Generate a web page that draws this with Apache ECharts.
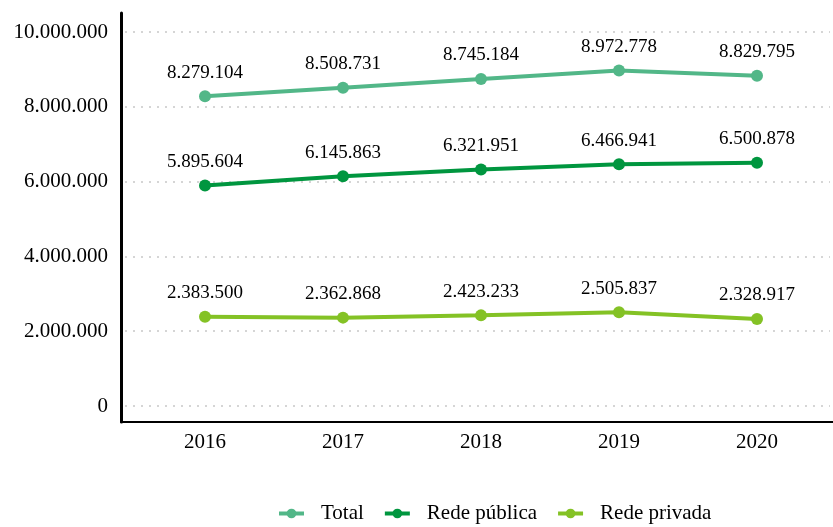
<!DOCTYPE html>
<html>
<head>
<meta charset="utf-8">
<script src="https://cdn.jsdelivr.net/npm/echarts@6/dist/echarts.min.js"></script>
<style>
  html, body { margin: 0; padding: 0; background: #fff; }
  #chart { width: 833px; height: 527px; }
</style>
</head>
<body>
<div id="chart"></div>
<script>
const years = ['2016', '2017', '2018', '2019', '2020']
const total = [8279104, 8508731, 8745184, 8972778, 8829795]
const publica = [5895604, 6145863, 6321951, 6466941, 6500878]
const privada = [2383500, 2362868, 2423233, 2505837, 2328917]

const font = '"Liberation Serif", "Times New Roman", serif'

function fmt (v) {
  return String(v).replace(/\B(?=(\d{3})+(?!\d))/g, '.')
}

function line (name, data, color) {
  return {
    name: name,
    type: 'line',
    data: data,
    xAxisIndex: 0,
    yAxisIndex: 0,
    symbol: 'circle',
    symbolSize: 12,
    lineStyle: { color: color, width: 4 },
    itemStyle: { color: color },
    label: {
      show: true,
      position: 'top',
      distance: 8,
      formatter: p => fmt(p.value),
      fontFamily: font,
      fontSize: 19,
      color: '#000'
    }
  }
}

const chart = echarts.init(document.getElementById('chart'))
chart.setOption({
  animation: false,
  textStyle: { fontFamily: font },
  grid: [
    { left: 136, right: 7, top: 32, bottom: 121 },
    { left: 125, right: 3, top: 32, bottom: 121 },
    { left: 121, right: 0, top: 13, bottom: 105 }
  ],
  legend: {
    top: 503,
    left: 277,
    padding: 0,
    itemWidth: 25,
    itemHeight: 12,
    itemGap: 19,
    lineStyle: { width: 4 },
    data: ['Total', 'Rede pública', 'Rede privada'],
    textStyle: { fontFamily: font, fontSize: 21, color: '#000', padding: [0, 0, 0, 12] }
  },
  xAxis: [
    {
      gridIndex: 0,
      type: 'category',
      data: years,
      boundaryGap: true,
      axisLine: { show: false },
      axisTick: { show: false },
      axisLabel: { fontFamily: font, fontSize: 21, color: '#000', margin: 26 }
    },
    { gridIndex: 1, type: 'value', show: false },
    {
      gridIndex: 2,
      type: 'value',
      axisLine: { show: true, onZero: false, lineStyle: { color: '#000', width: 2 } },
      axisTick: { show: false },
      axisLabel: { show: false },
      splitLine: { show: false }
    }
  ],
  yAxis: [
    {
      gridIndex: 0,
      type: 'value',
      min: 0,
      max: 10000000,
      interval: 2000000,
      axisLine: { show: false },
      axisTick: { show: false },
      splitLine: { show: false },
      axisLabel: {
        fontFamily: font,
        fontSize: 21,
        color: '#000',
        margin: 28,
        formatter: v => fmt(v)
      }
    },
    {
      gridIndex: 1,
      type: 'value',
      min: 0,
      max: 10000000,
      interval: 2000000,
      axisLine: { show: false },
      axisTick: { show: false },
      axisLabel: { show: false },
      splitLine: { show: true, lineStyle: { color: '#c8c8c8', type: [2, 6], width: 1.5 } }
    },
    {
      gridIndex: 2,
      type: 'value',
      axisLine: { show: true, onZero: false, lineStyle: { color: '#000', width: 3 } },
      axisTick: { show: false },
      axisLabel: { show: false },
      splitLine: { show: false }
    }
  ],
  series: [
    line('Total', total, '#52b788'),
    line('Rede pública', publica, '#00963f'),
    line('Rede privada', privada, '#84c225')
  ]
})
</script>
</body>
</html>
